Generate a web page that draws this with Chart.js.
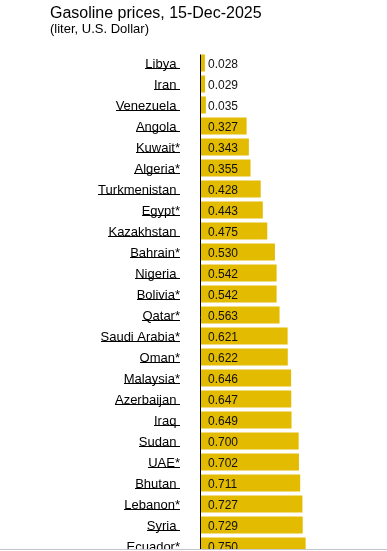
<!DOCTYPE html>
<html>
<head>
<meta charset="utf-8">
<script src="https://cdn.jsdelivr.net/npm/chart.js@4"></script>
<style>
  html, body { margin: 0; padding: 0; background: #fff; overflow: hidden; }
  #wrap { position: relative; width: 387px; height: 551px; overflow: hidden; }
  #title { position: absolute; left: 50px; top: 5px; font: 16px/16px Arial, "Liberation Sans", sans-serif; color: #000; white-space: nowrap; }
  #subtitle { position: absolute; left: 50px; top: 22px; font: 13px/13px Arial, "Liberation Sans", sans-serif; color: #000; white-space: nowrap; }
  #chart { position: absolute; left: 0; top: 0; }
  #rule { position: absolute; left: 0; top: 549px; width: 387px; height: 1px; background: #c3c7cd; }
  #below { position: absolute; left: 0; top: 550px; width: 387px; height: 1px; background: #fff; }
</style>
</head>
<body>
<div id="wrap">
  <canvas id="chart" width="387" height="580"></canvas>
  <div id="title">Gasoline prices, 15-Dec-2025</div>
  <div id="subtitle">(liter, U.S. Dollar)</div>
  <div id="rule"></div>
  <div id="below"></div>
</div>
<script>
// ===== Data =====
const countries = [
  'Libya', 'Iran', 'Venezuela', 'Angola', 'Kuwait*', 'Algeria*',
  'Turkmenistan', 'Egypt*', 'Kazakhstan', 'Bahrain*', 'Nigeria', 'Bolivia*',
  'Qatar*', 'Saudi Arabia*', 'Oman*', 'Malaysia*', 'Azerbaijan', 'Iraq',
  'Sudan', 'UAE*', 'Bhutan', 'Lebanon*', 'Syria', 'Ecuador*'
];
const prices = [
  0.028, 0.029, 0.035, 0.327, 0.343, 0.355,
  0.428, 0.443, 0.475, 0.530, 0.542, 0.542,
  0.563, 0.621, 0.622, 0.646, 0.647, 0.649,
  0.700, 0.702, 0.711, 0.727, 0.729, 0.750
];

const BAR_COLOR = '#e3bb00';
const FONT = 'Arial, "Liberation Sans", sans-serif';

// ===== Labels, values and axis line =====
const labelPlugin = {
  id: 'labels',
  afterDatasetsDraw(chart) {
    const { ctx, chartArea, scales } = chart;
    const meta = chart.getDatasetMeta(0);
    ctx.save();

    // vertical axis line
    const top = meta.data[0].y - meta.data[0].height / 2;
    ctx.strokeStyle = '#000';
    ctx.lineWidth = 1;
    ctx.beginPath();
    ctx.moveTo(chartArea.left - 0.5, top);
    ctx.lineTo(chartArea.left - 0.5, chart.height);
    ctx.stroke();

    const right = chartArea.left - 21;
    countries.forEach((name, i) => {
      const y = scales.y.getPixelForValue(i);
      const text = name.endsWith('*') ? name : name + ' ';

      // category label, underlined like a link
      ctx.font = '13px ' + FONT;
      ctx.fillStyle = '#000';
      ctx.textAlign = 'right';
      ctx.textBaseline = 'alphabetic';
      ctx.fillText(text, right, y + 4.5);
      const w = ctx.measureText(text).width;
      ctx.fillRect(Math.round(right - w), Math.round(y + 5), Math.round(w), 1);

      // value inside the bar
      ctx.font = '12px ' + FONT;
      ctx.fillStyle = '#111';
      ctx.textAlign = 'left';
      ctx.fillText(prices[i].toFixed(3), scales.x.getPixelForValue(0) + 7, y + 5);
    });
    ctx.restore();
  }
};

new Chart(document.getElementById('chart'), {
  type: 'bar',
  data: {
    labels: countries,
    datasets: [{
      data: prices,
      backgroundColor: BAR_COLOR,
      borderWidth: 0,
      barPercentage: 0.81,
      categoryPercentage: 1
    }]
  },
  options: {
    indexAxis: 'y',
    responsive: false,
    animation: false,
    layout: { padding: { left: 201, right: 0, top: 52.5, bottom: 23.5 } },
    plugins: { legend: { display: false }, tooltip: { enabled: false } },
    scales: {
      x: { display: false, min: 0, max: 1.3333 },
      y: { display: false }
    }
  },
  plugins: [labelPlugin]
});
</script>
</body>
</html>
